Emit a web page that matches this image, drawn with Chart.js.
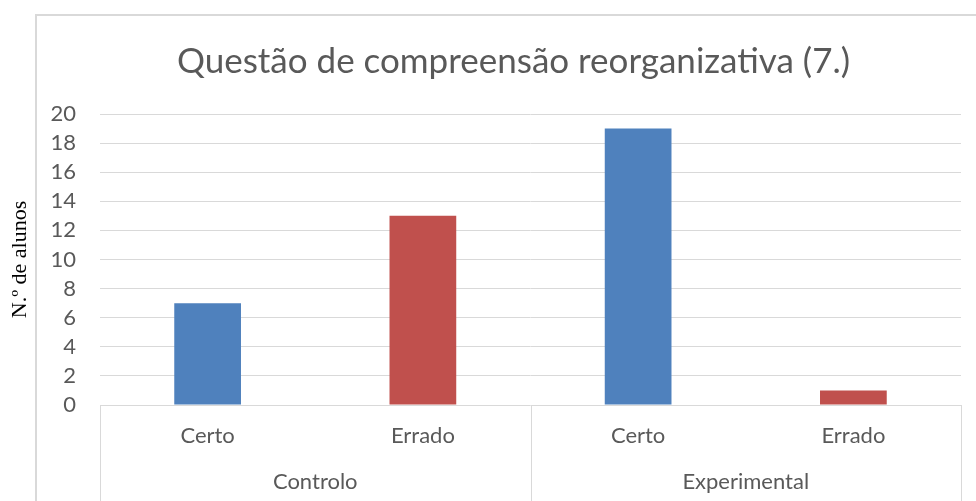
<!DOCTYPE html>
<html>
<head>
<meta charset="utf-8">
<script src="https://cdn.jsdelivr.net/npm/chart.js@4"></script>
<style>
  html, body { margin: 0; padding: 0; background: #fff; }
  #wrap { width: 976px; height: 501px; }
</style>
</head>
<body>
<div id="wrap"><canvas id="chart" width="976" height="501"></canvas></div>
<script>
const titleText = 'Questão de compreensão reorganizativa (7.)';
const yTitle = 'N.º de alunos';

// inner categories and outer groups
const categories = ['Certo', 'Errado', 'Certo', 'Errado'];
const groups = ['Controlo', 'Experimental'];
const groupSizes = [2, 2];

const values = [7, 13, 19, 1];
const barColors = ['#4F81BD', '#C0504D', '#4F81BD', '#C0504D'];

const yTicks = [0, 2, 4, 6, 8, 10, 12, 14, 16, 18, 20];

const fontType = 'Lato';
const textColor = '#595959';
const gridColor = '#D9D9D9';

// the chart frame runs past the right and bottom of the picture
const frameLeft = 36;
const frameTop = 15;
const frameRight = 991;

// light frame round the chart, and the title centred on that frame
const framePlugin = {
  id: 'frame',
  beforeDraw(chart) {
    const ctx = chart.ctx;
    ctx.save();
    ctx.strokeStyle = gridColor;
    ctx.lineWidth = 2;
    ctx.strokeRect(frameLeft, frameTop, frameRight - frameLeft, chart.height + 20);
    ctx.fillStyle = textColor;
    ctx.font = '35px ' + fontType;
    ctx.textAlign = 'center';
    ctx.textBaseline = 'middle';
    ctx.fillText(titleText, (frameLeft + frameRight) / 2, 62);
    ctx.restore();
  }
};

// vertical separators between the group blocks of the category axis
const separatorPlugin = {
  id: 'separators',
  afterDraw(chart) {
    const x = chart.scales.x;
    const ctx = chart.ctx;
    const step = (x.right - x.left) / categories.length;
    let bounds = [x.left];
    let idx = 0;
    groupSizes.forEach((n) => {
      idx += n;
      bounds.push(x.left + step * idx);
    });
    ctx.save();
    ctx.strokeStyle = gridColor;
    ctx.lineWidth = 1;
    bounds.forEach((b) => {
      const px = Math.round(b) + 0.5;
      ctx.beginPath();
      ctx.moveTo(px, chart.chartArea.bottom);
      ctx.lineTo(px, chart.height);
      ctx.stroke();
    });
    ctx.restore();
  }
};

new Chart(document.getElementById('chart'), {
  type: 'bar',
  data: {
    labels: categories,
    datasets: [{
      label: yTitle,
      data: values,
      backgroundColor: barColors,
      borderWidth: 0,
      categoryPercentage: 1,
      barPercentage: 0.31,
      xAxisID: 'x',
      yAxisID: 'y'
    }]
  },
  options: {
    responsive: false,
    animation: false,
    layout: {
      padding: { left: 0, right: 15, top: 114, bottom: 0 }
    },
    plugins: {
      legend: { display: false },
      tooltip: { enabled: false },
      title: { display: false }
    },
    scales: {
      x: {
        type: 'category',
        position: 'bottom',
        grid: { display: false },
        border: { display: false },
        ticks: {
          color: textColor,
          font: { family: fontType, size: 22 },
          padding: 10,
          maxRotation: 0
        },
        afterFit(scale) { scale.height = 55; }
      },
      x2: {
        type: 'category',
        position: 'bottom',
        labels: groups,
        offset: true,
        grid: { display: false },
        border: { display: false },
        ticks: {
          color: textColor,
          font: { family: fontType, size: 22 },
          padding: 1,
          maxRotation: 0
        },
        afterFit(scale) { scale.height = 41; }
      },
      y: {
        min: 0,
        max: 20,
        afterBuildTicks(scale) {
          scale.ticks = yTicks.map((v) => ({ value: v }));
        },
        grid: { color: gridColor, lineWidth: 1, drawTicks: false },
        border: { display: false },
        ticks: {
          color: textColor,
          font: { family: fontType, size: 22 },
          padding: 24,
          autoSkip: false
        },
        title: {
          display: true,
          text: yTitle,
          color: '#000000',
          font: { family: 'Liberation Serif', size: 22 },
          padding: { top: 7, bottom: 0 }
        },
        afterFit(scale) { scale.width = 100; }
      }
    }
  },
  plugins: [framePlugin, separatorPlugin]
});
</script>
</body>
</html>
